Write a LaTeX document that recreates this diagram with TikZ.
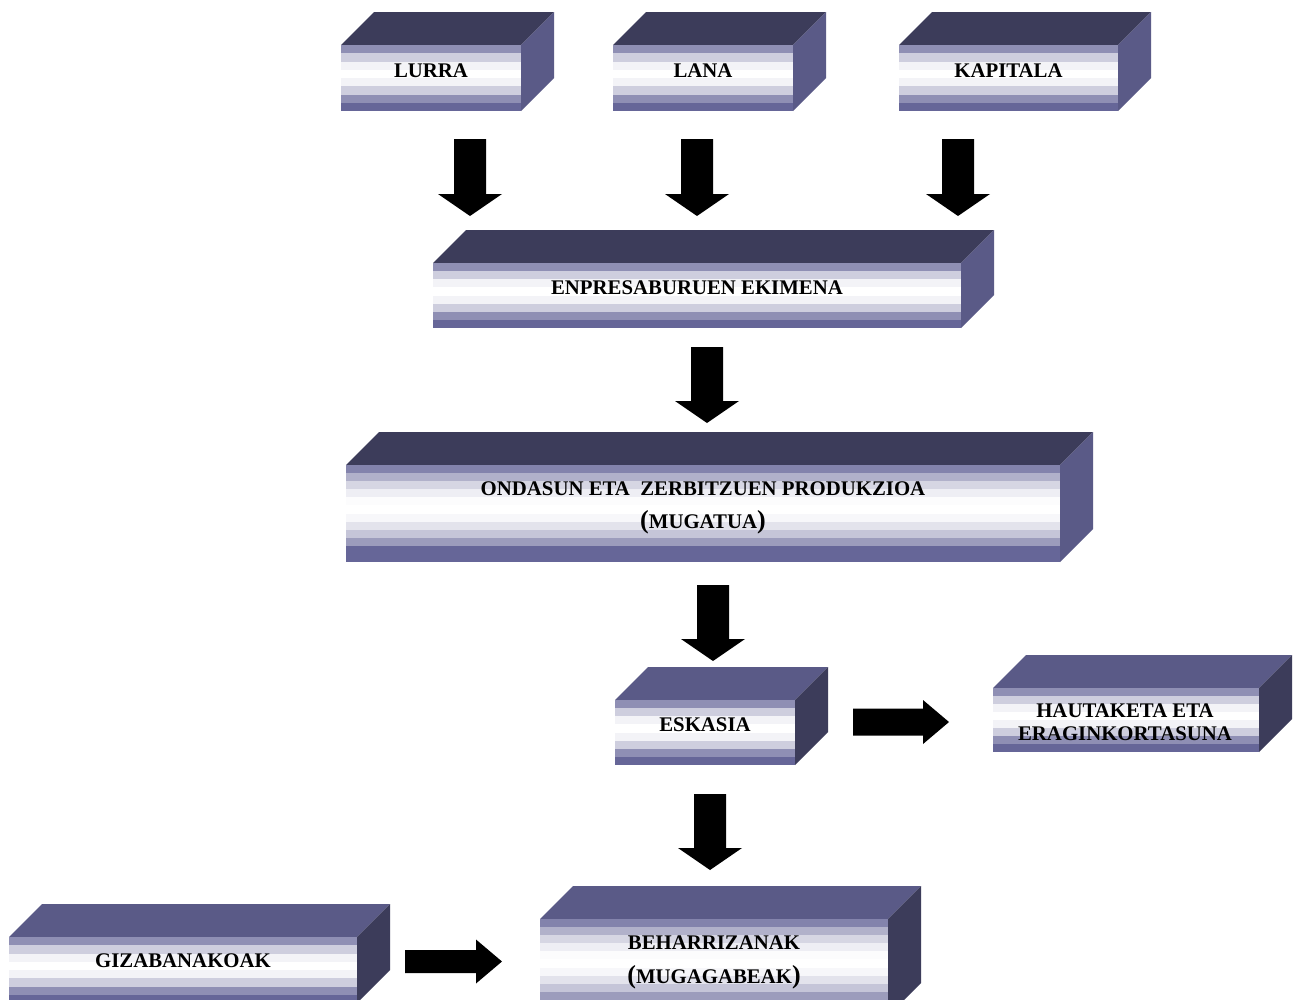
\documentclass[tikz,border=0pt]{standalone}
\usepackage{fontspec}
\setmainfont{Liberation Serif}
\definecolor{topdark}{RGB}{60,60,90}
\definecolor{toplight}{RGB}{90,90,135}
\definecolor{stripebase}{RGB}{102,102,152}
\newcommand\bigpar[1]{{\fontsize{26}{28}\selectfont#1}}
\tikzset{
  frontbox/.style={rectangle, inner sep=0pt, outer sep=0pt},
  lbl/.style={font=\fontsize{20.8}{24}\selectfont\bfseries, inner sep=0pt, anchor=base},
  blockarrow/.style={fill=black}
}
\newcommand\cuboid[7]{%
  \node[frontbox, minimum width={#4-#2}, minimum height={#5-#3}] (#1) at ({(#2+#4)/2},{(#3+#5)/2}) {};
  \fill[#6] (#1.north west) -- ++(33,-33) -- ++({#4-#2},0) -- (#1.north east) -- cycle;
  \fill[#7] (#1.north east) -- ++(33,-33) -- ++(0,{#5-#3}) -- (#1.south east) -- cycle;
  \pgfmathtruncatemacro\ns{round((#5-#3)/8.2)}
  \foreach \i in {1,...,\ns}{
    \pgfmathsetmacro\ya{#3+(\i-1)*(#5-#3)/\ns}
    \pgfmathsetmacro\yb{#3+\i*(#5-#3)/\ns}
    \pgfmathsetmacro\dd{min(1,abs((\i-0.5)/\ns-0.4375)/0.4375)}
    \pgfmathtruncatemacro\ff{100*\dd*\dd}
    \fill[stripebase!\ff!white] (#2,\ya) rectangle (#4,{\yb+0.4});
  }
}
\newcommand\downblock[3]{% cx, top, tip
  \fill[blockarrow] ({#1-16},#2) -- ({#1+16},#2) -- ({#1+16},{#3-22}) -- ({#1+32},{#3-22})
    -- (#1,#3) -- ({#1-32},{#3-22}) -- ({#1-16},{#3-22}) -- cycle;
}
\newcommand\rightblock[5]{% left, cy, tip, shaft half, head half
  \fill[blockarrow] (#1,{#2-#4}) -- ({#3-26},{#2-#4}) -- ({#3-26},{#2-#5}) -- (#3,#2)
    -- ({#3-26},{#2+#5}) -- ({#3-26},{#2+#4}) -- (#1,{#2+#4}) -- cycle;
}
\begin{document}
\begin{tikzpicture}[x=1pt,y=-1pt]
\useasboundingbox (0,0) rectangle (1296,999);
\clip (0,0) rectangle (1296,999);
\fill[white] (0,0) rectangle (1296,999);

\cuboid{lurra}{341}{45}{521}{111}{topdark}{toplight}
\cuboid{lana}{613}{45}{793}{111}{topdark}{toplight}
\cuboid{kapitala}{899}{45}{1118}{111}{topdark}{toplight}
\cuboid{ekimena}{433}{263}{961}{328}{topdark}{toplight}
\cuboid{produkzioa}{346}{465}{1060}{562}{topdark}{toplight}
\cuboid{eskasia}{615}{700}{795}{765}{toplight}{topdark}
\cuboid{hautaketa}{993}{688}{1259}{752}{toplight}{topdark}
\cuboid{gizabanakoak}{9}{937}{357}{1003}{toplight}{topdark}
\cuboid{beharrizanak}{540}{919}{888}{1016}{toplight}{topdark}

\node[lbl] (t-lurra) at (431,77) {LURRA};
\node[lbl] (t-lana) at (703,77) {LANA};
\node[lbl] (t-kapitala) at (1008.5,77) {KAPITALA};
\node[lbl] (t-ekimena) at (697,294) {ENPRESABURUEN EKIMENA};
\node[lbl] (t-prod1) at (703,495) {ONDASUN ETA\ \ ZERBITZUEN PRODUKZIOA};
\node[lbl] (t-prod2) at (703,528) {\bigpar{(}MUGATUA\bigpar{)}};
\node[lbl] (t-eskasia) at (705,731) {ESKASIA};
\node[lbl] (t-haut1) at (1125,717) {HAUTAKETA ETA};
\node[lbl] (t-haut2) at (1125,740) {ERAGINKORTASUNA};
\node[lbl] (t-giza) at (183,967) {GIZABANAKOAK};
\node[lbl] (t-behar1) at (714,949) {BEHARRIZANAK};
\node[lbl] (t-behar2) at (714,983) {\bigpar{(}MUGAGABEAK\bigpar{)}};

\downblock{470}{139}{216}
\downblock{697}{139}{216}
\downblock{958}{139}{216}
\downblock{707}{347}{423}
\downblock{713}{585}{661}
\downblock{710}{794}{870}
\rightblock{853}{722}{949}{13.5}{22}
\rightblock{405}{961.5}{502}{11.5}{22}
\end{tikzpicture}
\end{document}
